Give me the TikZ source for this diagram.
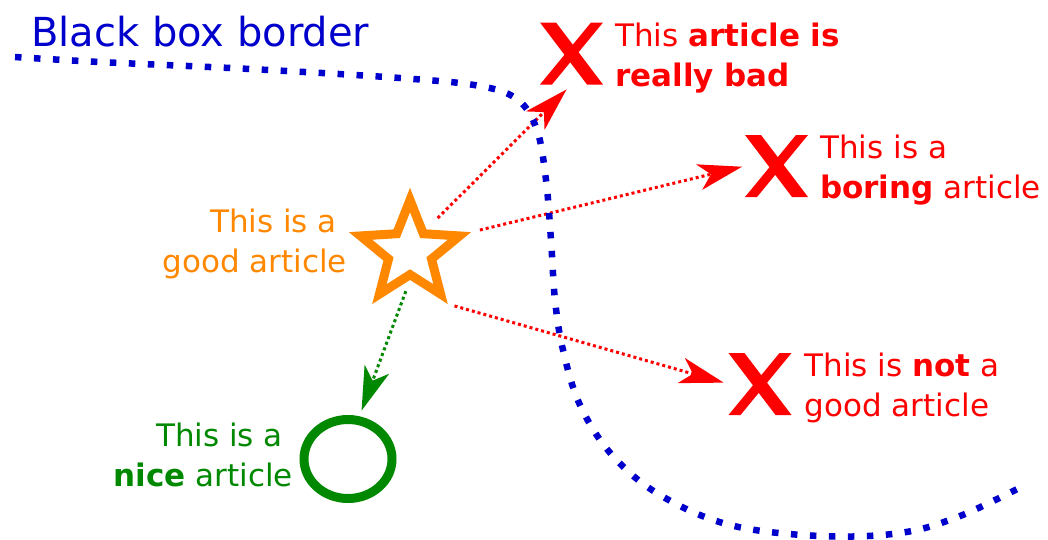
\documentclass[tikz,border=0pt]{standalone}
\usepackage{fontspec}
\setmainfont{DejaVu Sans}
\usetikzlibrary{shapes.geometric,arrows.meta,positioning}

\definecolor{boxblue}{RGB}{0,0,204}
\definecolor{badred}{RGB}{255,0,0}
\definecolor{goodorange}{RGB}{255,136,0}
\definecolor{nicegreen}{RGB}{0,136,0}

\tikzset{
  verdict/.style={inner sep=0pt, font=\fontsize{31}{40}\selectfont},
  reason/.style={verdict, text=badred, align=left},
  xmark/.style={minimum width=63pt, minimum height=62pt, inner sep=0pt, outer sep=0pt,
    path picture={
      \fill[badred] (path picture bounding box.north west) -- ++(16pt,0pt)
        -- (path picture bounding box.south east) -- ++(-16pt,0pt) -- cycle;
      \fill[badred] (path picture bounding box.north east) -- ++(-12pt,0pt)
        -- (path picture bounding box.south west) -- ++(12pt,0pt) -- cycle;
    }},
  dottedarrow/.style={line width=3pt, dash pattern=on 3pt off 3pt,
    -{Stealth[length=44pt, width=26pt, inset=12pt]}},
}

\begin{document}
\begin{tikzpicture}[x=1pt, y=-1pt]
  \useasboundingbox (0,0) rectangle (1048,539);
  % the article that is tested
  \node[star, star points=5, star point ratio=2.3, minimum size=104pt, inner sep=0pt,
        draw=goodorange, line width=9pt] (star) at (410,252) {};
  \node[verdict, text=goodorange, align=right, anchor=north east] (goodlbl) at (347,209)
    {This is a\kern.32em\\good article};
  % what the box says
  \node[xmark] (bad) at (571.5,53.5) {};
  \node[reason, right=12pt of bad.north east, anchor=north west] (badlbl)
    {This \textbf{article is}\\\textbf{really bad}};
  \node[xmark] (boring) at (776.5,166) {};
  \node[reason, right=12pt of boring.north east, anchor=north west] (boringlbl)
    {This is a\\\textbf{boring} article};
  \node[xmark] (notgood) at (760,384) {};
  \node[reason, right=13pt of notgood.north east, anchor=north west] (notgoodlbl)
    {This is \textbf{not} a\\good article};
  % the right answer
  \node[ellipse, minimum width=88pt, minimum height=79pt, draw=nicegreen, line width=9pt] (nice) at (348,459) {};
  \node[verdict, text=nicegreen, align=right, anchor=north east] (nicelbl) at (293,423)
    {This is a\kern.32em\\\textbf{nice} article};
  % arrows
  \draw[dottedarrow, badred, shorten <=16pt, shorten >=7pt] (star.inner point 5) -- (bad.south);
  \draw[dottedarrow, badred, shorten <=9pt, shorten >=3pt] (star.outer point 5) -- (boring.west);
  \draw[dottedarrow, badred, shorten <=7pt, shorten >=5pt] (star.outer point 4) -- (notgood.west);
  \draw[dottedarrow, nicegreen, shorten <=12pt, shorten >=6pt] (star.inner point 3) -- (nice.75);
  % border of the black box
  \node[font=\fontsize{40}{48}\selectfont, text=boxblue, inner sep=0pt, anchor=base west] (boxlbl)
    at (31,46) {Black box border};
  \draw[boxblue, line width=6.5pt, dash pattern=on 6.5pt off 12.5pt]
    plot[smooth, tension=0.6] coordinates {(15,57) (100,62) (250,69) (400,78) (480,86) (518,100)
      (537,130) (546,180) (551,240) (555,300) (563,350) (580,405) (612,455) (660,495) (730,525)
      (820,536) (900,533) (960,516) (1027,484)};
\end{tikzpicture}
\end{document}
